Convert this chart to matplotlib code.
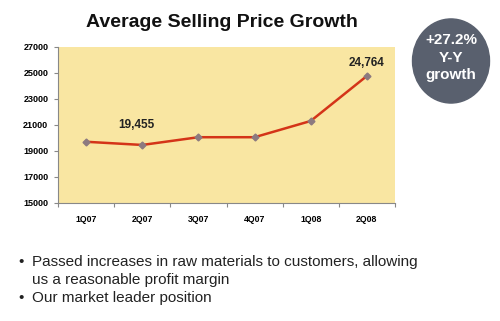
import numpy as np
import matplotlib.pyplot as plt
from matplotlib.patches import Ellipse

plt.rcParams['font.family'] = ['Liberation Sans', 'DejaVu Sans']

# data
quarters = ['1Q07', '2Q07', '3Q07', '4Q07', '1Q08', '2Q08']
avg_price = [19700, 19455, 20050, 20050, 21300, 24764]
labelled = {1: '19,455', 5: '24,764'}
yticks = [15000, 17000, 19000, 21000, 23000, 25000, 27000]
bullet_lines = ['Passed increases in raw materials to customers, allowing',
                'us a reasonable profit margin',
                'Our market leader position']

fig = plt.figure(figsize=(5, 3.21), dpi=100)
ax = fig.add_axes([0.116, 0.368, 0.674, 0.486])
ax.set_facecolor('#f9e6a2')

x = np.arange(len(quarters))
ax.plot(x, avg_price, color='#d43418', lw=1.8, zorder=2)
ax.plot(x, avg_price, ls='none', marker='D', ms=3.5, color='#8c7a80', zorder=3)
offs = {1: (-4, 10), 5: (0, 5)}
for i, txt in labelled.items():
    ax.annotate(txt, (x[i], avg_price[i]), xytext=offs[i], textcoords='offset points',
                ha='center', va='bottom', fontsize=8.5, fontweight='bold', color='#222222')

ax.set_xlim(-0.5, len(quarters) - 0.5)
ax.set_ylim(15000, 27000)
ax.set_yticks(yticks)
ax.set_yticklabels([str(v) for v in yticks], fontsize=6.5, fontweight='bold')
ax.set_xticks(np.arange(-0.5, len(quarters), 1.0))
ax.set_xticklabels([])
ax.set_xticks(x, minor=True)
ax.set_xticklabels(quarters, minor=True, fontsize=6.3, fontweight='bold')
ax.tick_params(axis='x', which='minor', length=0, pad=9)
ax.tick_params(axis='x', which='major', length=3, color='#888888')
ax.tick_params(axis='y', length=3, color='#888888', pad=4)
for s in ['top', 'right']:
    ax.spines[s].set_visible(False)
for s in ['left', 'bottom']:
    ax.spines[s].set_color('#888888')
    ax.spines[s].set_linewidth(0.8)

fig.text(0.444, 0.931, 'Average Selling Price Growth', ha='center', va='center',
         fontsize=14, fontweight='bold', color='#111111')

# growth bubble
circ = Ellipse((0.902, 0.81), 0.154, 0.262, transform=fig.transFigure,
               color='#59606e', zorder=0)
fig.patches.append(circ)
fig.text(0.902, 0.82, '+27.2%\nY-Y\ngrowth', ha='center', va='center',
         fontsize=11, fontweight='bold', color='white', linespacing=1.3)

# bullets
for line, yy, has_bullet in zip(bullet_lines, [262, 280, 298], [True, False, True]):
    if has_bullet:
        fig.text(0.036, 1 - yy / 321, '\u2022', ha='left', va='center', fontsize=11, color='#222222')
    fig.text(0.064, 1 - yy / 321, line, ha='left', va='center', fontsize=11, color='#222222')

fig.savefig('out.png', dpi=100)
